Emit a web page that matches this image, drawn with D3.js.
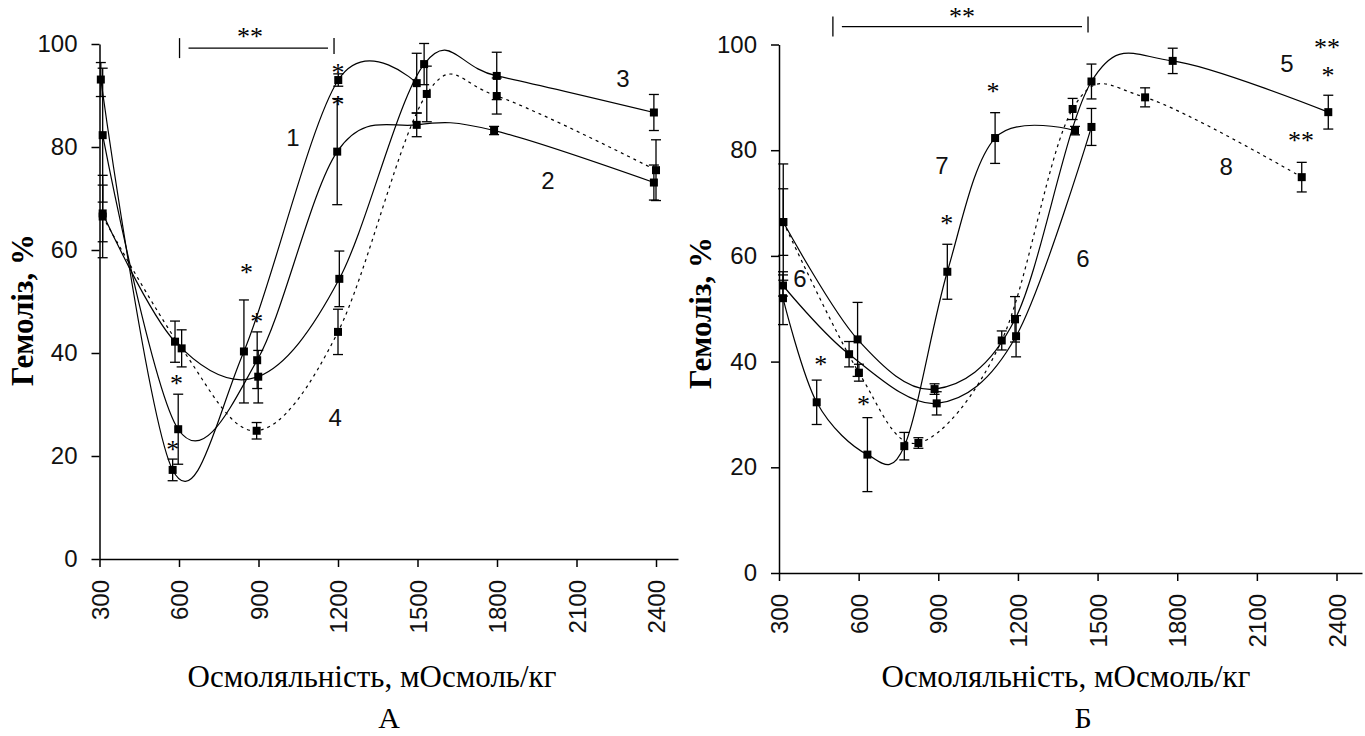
<!DOCTYPE html>
<html>
<head>
<meta charset="utf-8">
<script src="https://cdn.jsdelivr.net/npm/d3@7"></script>
<style>
  body { margin: 0; background: #fff; }
</style>
</head>
<body>
<svg id="chart" width="1365" height="736"></svg>
<script>
// ticks shared by both panels
var xTicks = [300, 600, 900, 1200, 1500, 1800, 2100, 2400];
var yTicks = [0, 20, 40, 60, 80, 100];

// panel A : [osmolality, hemolysis %, error]
var a1 = [[305, 93.1, 3.3], [576, 17.3, 2.1], [845, 40.3, 10.0], [1201, 93.0, 1.2], [1497, 92.4, 5.8]];
var a2 = [[312, 82.3, 13.0], [597, 25.2, 6.8], [895, 38.6, 5.5], [1197, 79.1, 10.3], [1497, 84.3, 2.3], [1789, 83.2, 0.8], [2392, 73.1, 3.4]];
var a3 = [[312, 67.1, 5.5], [585, 42.2, 4.0], [899, 35.4, 5.1], [1205, 54.4, 5.4], [1525, 96.1, 4.0], [1799, 93.8, 4.6], [2392, 86.7, 3.5]];
var a4 = [[312, 66.5, 8.0], [610, 40.9, 3.6], [893, 24.9, 1.6], [1200, 44.1, 4.4], [1535, 90.3, 5.4], [1799, 89.9, 3.5], [2400, 75.5, 5.9]];

// panel Б
var b5 = [[316, 66.4, 11.0], [596, 44.2, 7.0], [886, 34.8, 1.0], [1189, 48.0, 4.3], [1477, 93.0, 3.3], [1783, 96.9, 2.4], [2369, 87.2, 3.2]];
var b6 = [[315, 54.4, 2.0], [564, 41.4, 2.4], [894, 32.1, 2.2], [1193, 44.8, 3.9], [1477, 84.4, 3.5]];
var b7 = [[315, 52.0, 5.0], [442, 32.3, 4.2], [633, 22.4, 7.0], [772, 24.0, 2.6], [934, 57.0, 5.2], [1114, 82.3, 4.8], [1415, 83.7, 0.8]];
var b8 = [[316, 66.4, 6.3], [601, 37.9, 1.6], [825, 24.6, 1.0], [1139, 44.0, 1.8], [1406, 87.8, 2.0], [1679, 90.0, 1.8], [2269, 74.9, 2.8]];

// significance marks and curve numbers : [x, y, text]
var starsA = [[1200, 95.3, "*"], [1200, 89.1, "*"], [855, 56.5, "*"], [893, 46.8, "*"], [591, 34.8, "*"], [576, 22.1, "*"], [868, 102.3, "**"]];
var labelsA = [[1030, 81.9, "1"], [1992, 73.6, "2"], [2275, 93.4, "3"], [1189, 27.6, "4"]];
var starsB = [[1106, 91.8, "*"], [932, 66.8, "*"], [457, 40.2, "*"], [618, 32.7, "*"], [2368, 94.8, "*"], [2364, 100.2, "**"], [2266, 82.5, "**"], [989, 106, "**"]];
var labelsB = [[2213, 96.5, "5"], [379, 55.8, "6"], [1445, 59.6, "6"], [914, 77.2, "7"], [1984, 77.0, "8"]];

// brackets : [from, to, y]
var bracketA = [602, 1185, 99.2];
var bracketB = [503, 1464, 103.4];

var svg = d3.select("#chart");
svg.append("rect").attr("width", 1365).attr("height", 736).attr("fill", "#fff");

var serif = "'Liberation Serif', 'Times New Roman', serif";
var sans = "'Liberation Sans', Arial, sans-serif";

function drawPanel(p) {
  var x = d3.scaleLinear().domain([300, p.xMax]).range([p.left, p.right]);
  var y = d3.scaleLinear().domain([0, 100]).range([p.bottom, p.top]);
  var g = svg.append("g");

  // x axis
  var gx = g.append("g")
    .attr("transform", "translate(0," + p.bottom + ")")
    .call(d3.axisBottom(x).tickValues(xTicks).tickSize(8).tickSizeOuter(0).tickFormat(d3.format("d")));
  gx.selectAll("text")
    .attr("transform", "rotate(-90)")
    .attr("text-anchor", "end")
    .attr("x", -21).attr("y", 0).attr("dy", "0.36em");

  // y axis
  var gy = g.append("g")
    .attr("transform", "translate(" + p.left + ",0)")
    .call(d3.axisLeft(y).tickValues(yTicks).tickSize(8).tickSizeOuter(0).tickPadding(14));

  g.selectAll(".tick text").attr("font-size", 24).attr("font-family", sans).attr("fill", "#111");
  g.selectAll(".domain, .tick line").attr("stroke", "#000").attr("stroke-width", 1.5);

  // axis titles
  g.append("text")
    .attr("transform", "translate(" + p.yTitleX + "," + p.yTitleY + ") rotate(-90)")
    .attr("text-anchor", "middle")
    .attr("font-family", serif).attr("font-weight", "bold").attr("font-size", 31)
    .text("Гемоліз, %");
  g.append("text")
    .attr("x", p.xTitleX).attr("y", 687)
    .attr("text-anchor", "middle")
    .attr("font-family", serif).attr("font-size", 31)
    .text("Осмоляльність, мОсмоль/кг");
  g.append("text")
    .attr("x", p.letterX).attr("y", 728)
    .attr("text-anchor", "middle")
    .attr("font-family", serif).attr("font-size", 30)
    .text(p.letter);

  // curves
  var line = d3.line()
    .x(function(d) { return x(d[0]); })
    .y(function(d) { return y(d[1]); })
    .curve(d3.curveCardinal.tension(0));

  p.series.forEach(function(s) {
    g.append("path")
      .datum(s.data)
      .attr("d", line)
      .attr("fill", "none")
      .attr("stroke", "#000")
      .attr("stroke-width", 1.2)
      .attr("stroke-dasharray", s.dashed ? "3,4" : null);
  });

  // error bars + markers
  p.series.forEach(function(s) {
    var pts = g.append("g").selectAll("g").data(s.data).enter().append("g");
    pts.append("line")
      .attr("x1", function(d) { return x(d[0]); })
      .attr("x2", function(d) { return x(d[0]); })
      .attr("y1", function(d) { return y(d[1] - d[2]); })
      .attr("y2", function(d) { return y(d[1] + d[2]); })
      .attr("stroke", "#000").attr("stroke-width", 1.3);
    [-1, 1].forEach(function(k) {
      pts.append("line")
        .attr("x1", function(d) { return x(d[0]) - 5; })
        .attr("x2", function(d) { return x(d[0]) + 5; })
        .attr("y1", function(d) { return y(d[1] + k * d[2]); })
        .attr("y2", function(d) { return y(d[1] + k * d[2]); })
        .attr("stroke", "#000").attr("stroke-width", 1.3);
    });
    pts.append("rect")
      .attr("x", function(d) { return x(d[0]) - 4; })
      .attr("y", function(d) { return y(d[1]) - 4; })
      .attr("width", 8).attr("height", 8)
      .attr("fill", "#000");
  });

  // bracket
  var b = p.bracket;
  g.append("line").attr("x1", x(b[0])).attr("x2", x(b[0]))
    .attr("y1", y(b[2]) - 10).attr("y2", y(b[2]) + 10)
    .attr("stroke", "#000").attr("stroke-width", 1.3);
  g.append("line").attr("x1", x(b[0]) + 9).attr("x2", x(b[1]) - 6)
    .attr("y1", y(b[2])).attr("y2", y(b[2]))
    .attr("stroke", "#000").attr("stroke-width", 1.3);
  g.append("line").attr("x1", x(b[1])).attr("x2", x(b[1]))
    .attr("y1", y(b[2]) - 10).attr("y2", y(b[2]) + 6)
    .attr("stroke", "#000").attr("stroke-width", 1.3);

  // stars
  g.selectAll(".star").data(p.stars).enter().append("text")
    .attr("x", function(d) { return x(d[0]); })
    .attr("y", function(d) { return y(d[1]); })
    .attr("dy", "0.48em")
    .attr("text-anchor", "middle")
    .attr("font-family", serif).attr("font-size", 26)
    .text(function(d) { return d[2]; });

  // curve numbers
  g.selectAll(".lbl").data(p.labels).enter().append("text")
    .attr("x", function(d) { return x(d[0]); })
    .attr("y", function(d) { return y(d[1]); })
    .attr("dy", "0.36em")
    .attr("text-anchor", "middle")
    .attr("font-family", sans).attr("font-size", 24).attr("fill", "#111")
    .text(function(d) { return d[2]; });
}

drawPanel({
  left: 99.5, right: 678, top: 44, bottom: 559, xMax: 2483,
  yTitleX: 33, yTitleY: 310, xTitleX: 372, letterX: 389, letter: "А",
  series: [{data: a1}, {data: a2}, {data: a3}, {data: a4, dashed: true}],
  stars: starsA, labels: labelsA, bracket: bracketA
});

drawPanel({
  left: 779, right: 1362, top: 44.5, bottom: 573, xMax: 2496,
  yTitleX: 711, yTitleY: 313, xTitleX: 1066, letterX: 1083, letter: "Б",
  series: [{data: b5}, {data: b6}, {data: b7}, {data: b8, dashed: true}],
  stars: starsB, labels: labelsB, bracket: bracketB
});
</script>
</body>
</html>
